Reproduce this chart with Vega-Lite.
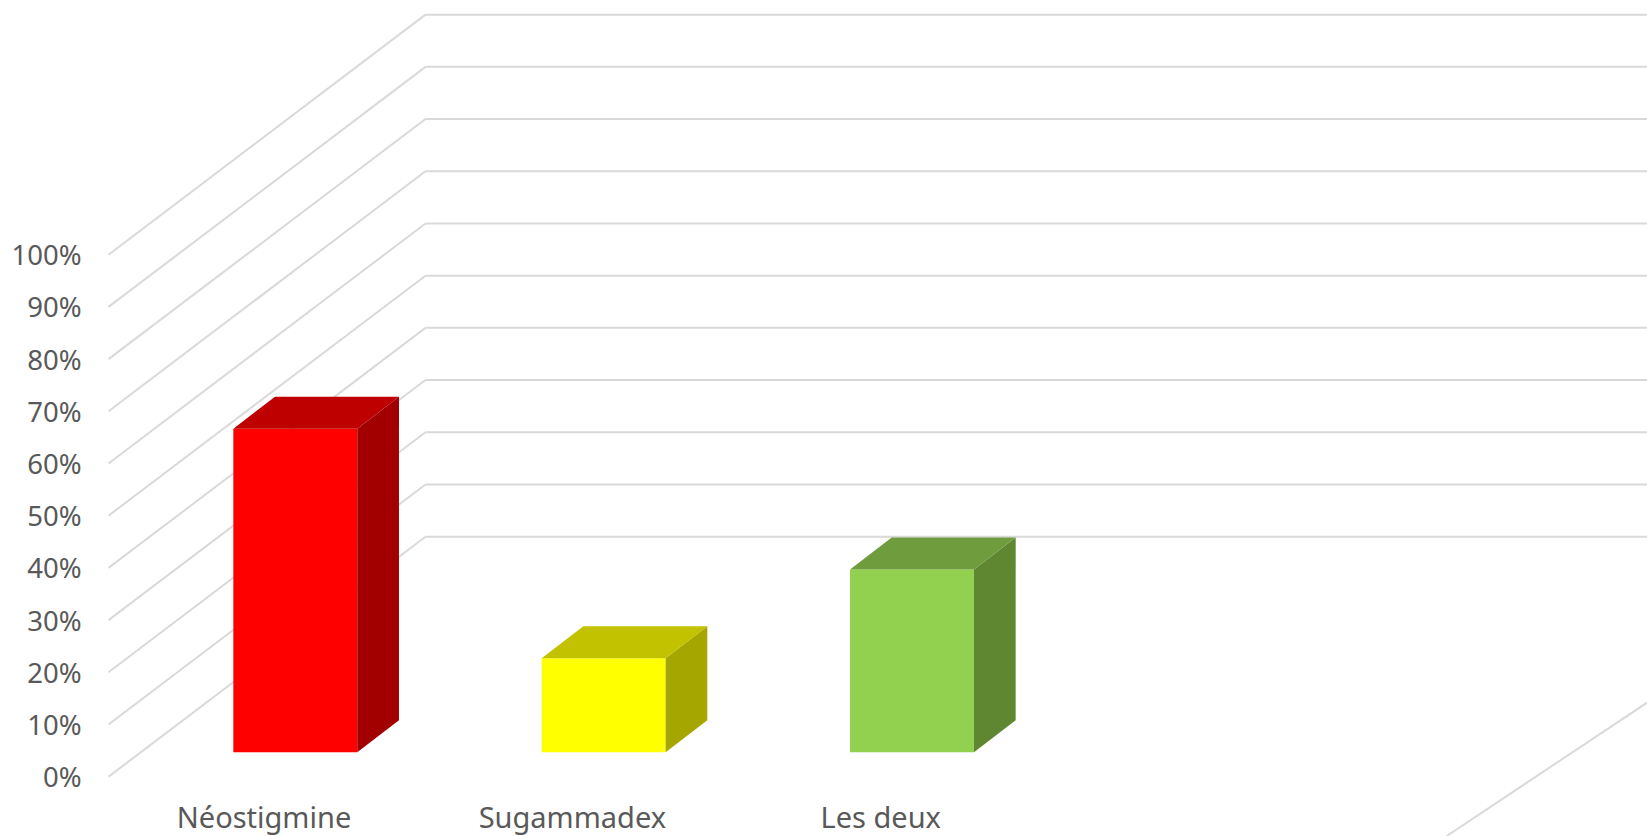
{
"$schema":"https://vega.github.io/schema/vega-lite/v6.json",
"width":1647,"height":836,"padding":0,"autosize":{"type":"none"},
"background":"white",
"config":{"view":{"stroke":null},"font":"Noto Sans"},
"datasets":{
"bars":[{"category":"Néostigmine","order":0,"value":62},{"category":"Sugammadex","order":1,"value":18},{"category":"Les deux","order":2,"value":35}],
"ticks":[{"tick":0},{"tick":10},{"tick":20},{"tick":30},{"tick":40},{"tick":50},{"tick":60},{"tick":70},{"tick":80},{"tick":90},{"tick":100}],
"floor":[{"x0":3.734,"y0":-11.36,"x1":4.384,"y1":14.18}]
},
"layer":[
{"data":{"name":"ticks"},
 "transform":[{"calculate":"-0.6058","as":"front"},{"calculate":"0.4222","as":"back"},{"calculate":"datum.tick+45.98","as":"tickBack"}],
 "mark":{"type":"rule","color":"#d9d9d9","strokeWidth":2},
 "encoding":{
  "x":{"field":"front","type":"quantitative","scale":{"domain":[-0.9577,4.3837],"nice":false,"zero":false},"axis":null},
  "x2":{"field":"back"},
  "y":{"field":"tick","type":"quantitative","scale":{"domain":[-11.36,148.79],"nice":false,"zero":false},
   "axis":{"values":[0,10,20,30,40,50,60,70,80,90,100],"title":null,"domain":false,"ticks":false,"grid":false,"offset":-81,"labelPadding":0,"labelOffset":2,"labelFontSize":27.5,"labelColor":"#595959","labelFont":"Noto Sans","labelExpr":"datum.value+'%'","labelOverlap":false,"labelBound":false,"labelFlush":false}},
  "y2":{"field":"tickBack"}}},
{"data":{"name":"ticks"},
 "transform":[{"calculate":"0.4222","as":"back"},{"calculate":"4.3837","as":"end"},{"calculate":"datum.tick+45.98","as":"tickBack"}],
 "mark":{"type":"rule","color":"#d9d9d9","strokeWidth":2},
 "encoding":{
  "x":{"field":"back","type":"quantitative","axis":null},"x2":{"field":"end"},
  "y":{"field":"tickBack","type":"quantitative","axis":null}}},
{"data":{"name":"floor"},
 "mark":{"type":"rule","color":"#d9d9d9","strokeWidth":2},
 "encoding":{
  "x":{"field":"x0","type":"quantitative","axis":null},"x2":{"field":"x1"},
  "y":{"field":"y0","type":"quantitative","axis":null},"y2":{"field":"y1"}}},
{"data":{"name":"bars"},
 "transform":[
  {"calculate":"datum.order-0.201","as":"left"},{"calculate":"datum.order+0.201","as":"right"},
  {"calculate":"datum.value+4.67","as":"top"},{"calculate":"4.67","as":"base"}],
 "mark":{"type":"rect"},
 "encoding":{
  "x":{"field":"left","type":"quantitative","axis":null},"x2":{"field":"right"},
  "y":{"field":"base","type":"quantitative","axis":null},"y2":{"field":"top"},
  "color":{"field":"category","type":"nominal","legend":null,"scale":{"domain":["Néostigmine","Sugammadex","Les deux"],"range":["#ff0000","#ffff00","#92d050"]}}}},
{"data":{"name":"bars"},
 "transform":[
  {"calculate":"[datum.order+0.201,datum.order+0.201+0.1352]","as":"sx"},
  {"calculate":"[4.67,4.67+6.13]","as":"sLow"},
  {"calculate":"[datum.value+4.67,datum.value+4.67+6.13]","as":"sHigh"},
  {"flatten":["sx","sLow","sHigh"]}],
 "mark":{"type":"area","interpolate":"linear"},
 "encoding":{
  "x":{"field":"sx","type":"quantitative","axis":null},
  "y":{"field":"sLow","type":"quantitative","axis":null},"y2":{"field":"sHigh"},
  "color":{"field":"category","type":"nominal","legend":null,"scale":{"domain":["Néostigmine","Sugammadex","Les deux"],"range":["#a20000","#a6a600","#5f8631"]}}}},
{"data":{"name":"bars"},
 "transform":[
  {"calculate":"[datum.value+4.67,datum.value+4.67+6.13]","as":"ty"},
  {"calculate":"[datum.order-0.201,datum.order-0.201+0.1352]","as":"tLeft"},
  {"calculate":"[datum.order+0.201,datum.order+0.201+0.1352]","as":"tRight"},
  {"flatten":["ty","tLeft","tRight"]}],
 "mark":{"type":"area","orient":"horizontal","interpolate":"linear"},
 "encoding":{
  "y":{"field":"ty","type":"quantitative","axis":null},
  "x":{"field":"tLeft","type":"quantitative","axis":null},"x2":{"field":"tRight"},
  "color":{"field":"category","type":"nominal","legend":null,"scale":{"domain":["Néostigmine","Sugammadex","Les deux"],"range":["#bf0000","#c2c200","#6f9d3d"]}}}},
{"data":{"name":"bars"},
 "transform":[{"calculate":"datum.order-0.1015","as":"labelX"},{"calculate":"-8.1","as":"labelY"}],
 "mark":{"type":"text","fontSize":29,"color":"#595959","font":"Noto Sans","align":"center","baseline":"middle"},
 "encoding":{
  "x":{"field":"labelX","type":"quantitative","axis":null},
  "y":{"field":"labelY","type":"quantitative","axis":null},
  "text":{"field":"category","type":"nominal"}}}
],
"resolve":{"scale":{"color":"independent"},"axis":{"y":"independent"}}
}
